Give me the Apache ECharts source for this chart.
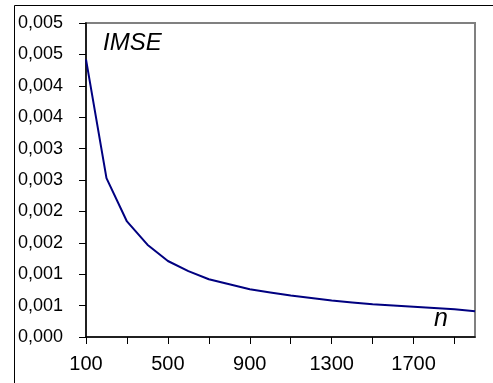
<!DOCTYPE html>
<html>
<head>
<meta charset="utf-8">
<script src="https://cdn.jsdelivr.net/npm/echarts@6/dist/echarts.min.js"></script>
<style>
  html, body { margin: 0; padding: 0; background: #fff; }
  #root { width: 493px; height: 383px; }
</style>
</head>
<body>
<div id="root"></div>
<script>
// sample sizes n (category axis)
const nValues = ['100', '200', '300', '400', '500', '600', '700', '800', '900', '1000',
  '1100', '1200', '1300', '1400', '1500', '1600', '1700', '1800', '1900', '2000']
// IMSE
const imseValues = [0.00442, 0.00253, 0.00184, 0.00147, 0.00121, 0.00105, 0.00092, 0.00084,
  0.00076, 0.00071, 0.00066, 0.00062, 0.00058, 0.00055, 0.00052, 0.00050,
  0.00048, 0.00046, 0.00044, 0.00041]
// y tick labels as printed (3 decimals, comma separator)
const yTickLabels = ['0,000', '0,001', '0,001', '0,002', '0,002', '0,003',
  '0,003', '0,004', '0,004', '0,005', '0,005']
const yStep = 0.0005

const font = "'Liberation Sans', Arial, sans-serif"

const chart = echarts.init(document.getElementById('root'), null, { renderer: 'canvas' })

const option = {
  animation: false,
  backgroundColor: '#fff',
  grid: {
    left: 86,
    top: 23,
    right: 18,
    bottom: 46,
    show: true,
    borderColor: '#808080',
    borderWidth: 2,
    backgroundColor: 'transparent'
  },
  xAxis: {
    type: 'category',
    data: nValues,
    boundaryGap: false,
    axisLine: { lineStyle: { color: '#000', width: 1.5 } },
    axisTick: { interval: 1, length: 7, lineStyle: { color: '#000' } },
    axisLabel: {
      interval: 3,
      margin: 17,
      color: '#000',
      fontSize: 20,
      fontFamily: font
    },
    splitLine: { show: false }
  },
  yAxis: {
    type: 'value',
    min: 0,
    max: 0.005,
    interval: yStep,
    axisLine: { show: true, lineStyle: { color: '#000', width: 1.5 } },
    axisTick: { show: true, length: 7, lineStyle: { color: '#000' } },
    axisLabel: {
      margin: 23,
      color: '#000',
      fontSize: 18,
      fontFamily: font,
      formatter: v => yTickLabels[Math.round(v / yStep)]
    },
    splitLine: { show: false }
  },
  series: [
    {
      type: 'line',
      data: imseValues,
      symbol: 'none',
      smooth: false,
      lineStyle: { color: '#000080', width: 2 }
    }
  ],
  graphic: [
    // outer chart frame (crop shows only left and top edges)
    {
      type: 'rect',
      shape: { x: 14.5, y: 5.5, width: 600, height: 600 },
      style: { fill: 'none', stroke: '#000', lineWidth: 1 },
      silent: true,
      z: -1
    },
    {
      type: 'text',
      left: 103,
      top: 31,
      style: {
        text: 'IMSE',
        font: 'italic 24px ' + font,
        fill: '#000'
      }
    },
    {
      type: 'text',
      left: 434,
      top: 307,
      style: {
        text: 'n',
        font: 'italic 25px ' + font,
        fill: '#000'
      }
    }
  ]
}

chart.setOption(option)
</script>
</body>
</html>
